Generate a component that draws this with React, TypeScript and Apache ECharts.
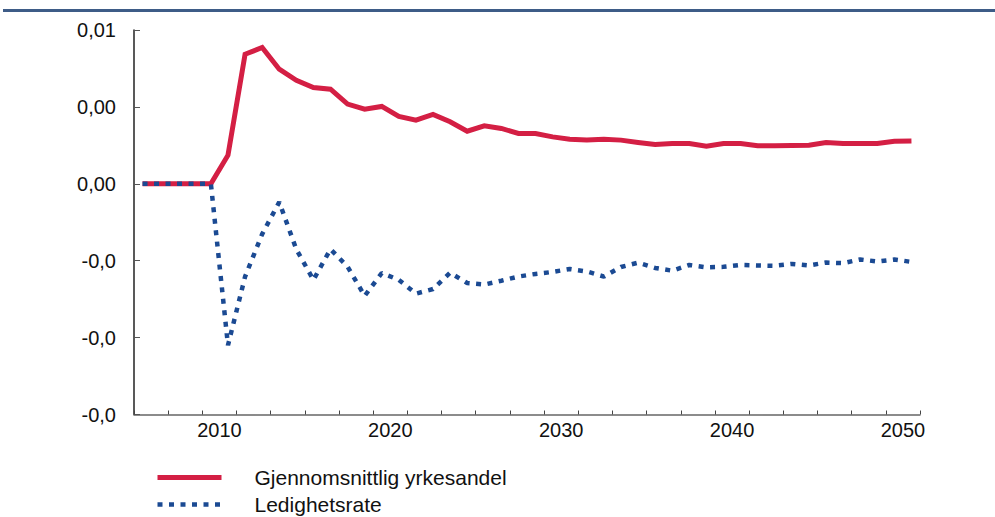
import React, { useEffect, useRef } from "react";
import * as echarts from "echarts";

const years = [
  2005, 2006, 2007, 2008, 2009, 2010, 2011, 2012, 2013, 2014,
  2015, 2016, 2017, 2018, 2019, 2020, 2021, 2022, 2023, 2024,
  2025, 2026, 2027, 2028, 2029, 2030, 2031, 2032, 2033, 2034,
  2035, 2036, 2037, 2038, 2039, 2040, 2041, 2042, 2043, 2044,
  2045, 2046, 2047, 2048, 2049, 2050,
];

const yrkesandel = [
  0, 0, 0, 0, 0, 0.00186, 0.00842, 0.00886, 0.00745, 0.00673,
  0.00626, 0.00615, 0.00518, 0.00485, 0.00503, 0.00438, 0.00414, 0.00451, 0.00403, 0.00342,
  0.00377, 0.0036, 0.00327, 0.00327, 0.00305, 0.0029, 0.00284, 0.0029, 0.00284, 0.00269,
  0.00256, 0.00262, 0.00262, 0.00245, 0.00262, 0.00262, 0.00247, 0.00247, 0.00249, 0.00251,
  0.00269, 0.00262, 0.00262, 0.00262, 0.00277, 0.00279,
];

const ledighetsrate = [
  0, 0, 0, 0, 0, -0.0105, -0.00604, -0.00327, -0.00119, -0.00426,
  -0.00625, -0.00425, -0.00539, -0.00729, -0.0058, -0.00625, -0.00714, -0.00684, -0.00578, -0.00645,
  -0.00655, -0.0063, -0.00603, -0.00586, -0.00573, -0.00554, -0.0057, -0.00603, -0.00541, -0.00513,
  -0.00547, -0.00565, -0.00528, -0.00543, -0.0054, -0.00528, -0.00531, -0.00533, -0.00521, -0.00531,
  -0.00512, -0.00516, -0.00492, -0.00505, -0.00492, -0.00508,
];

const seriesNames = ["Gjennomsnittlig yrkesandel", "Ledighetsrate"];
const yTickLabels = ["-0,0", "-0,0", "-0,0", "0,00", "0,00", "0,01"];
const xLabelYears = [2010, 2020, 2030, 2040, 2050];

const Y_MIN = -0.015;
const Y_MAX = 0.01;
const Y_STEP = 0.005;
const FONT = "'Liberation Sans', Arial, sans-serif";
const RED = "#D41F44";
const BLUE = "#1B4A93";
const DOTS = [5, 6.5];

export default function App() {
  const ref = useRef<HTMLDivElement>(null);

  useEffect(() => {
    document.body.style.margin = "0";
    if (!ref.current) return;
    const chart = echarts.init(ref.current, null, { renderer: "svg" });
    const firstYear = years[0];
    const pos = (y: number) => y - firstYear + 0.5;
    const tickValues: number[] = [];
    for (let b = 0; b <= years.length; b += 2) tickValues.push(b);

    chart.setOption({
      animation: false,
      backgroundColor: "#ffffff",
      textStyle: { fontFamily: FONT },
      graphic: [
        {
          type: "rect",
          shape: { x: 3, y: 9, width: 992, height: 3 },
          style: { fill: "#3E5C87" },
          silent: true,
        },
      ],
      grid: { left: 134, right: 75, top: 30, bottom: 102.5, containLabel: false },
      legend: {
        orient: "vertical",
        left: 155,
        top: 467,
        height: 80,
        padding: 0,
        itemWidth: 64,
        itemHeight: 20,
        itemGap: 6,
        itemStyle: { opacity: 0 },
        textStyle: {
          fontFamily: FONT,
          fontSize: 21,
          lineHeight: 20,
          color: "#111",
          padding: [0, 0, 0, 28],
        },
        data: [
          { name: seriesNames[0], lineStyle: { width: 5, color: RED } },
          { name: seriesNames[1], lineStyle: { width: 4.5, color: BLUE, type: DOTS } },
        ],
      },
      xAxis: {
        type: "value",
        min: 0,
        max: years.length,
        splitLine: { show: false },
        axisLine: { show: true, onZero: false, lineStyle: { color: "#666", width: 1.5 } },
        axisTick: {
          show: true,
          inside: true,
          length: 4,
          customValues: tickValues,
          lineStyle: { color: "#444", width: 1 },
        },
        axisLabel: {
          customValues: xLabelYears.map((y) => y - firstYear),
          formatter: (v: number) => String(Math.round(v) + firstYear),
          fontFamily: FONT,
          fontSize: 20,
          color: "#111",
          margin: 5,
        },
      },
      yAxis: {
        type: "value",
        min: Y_MIN,
        max: Y_MAX,
        interval: Y_STEP,
        splitLine: { show: false },
        axisLine: { show: true, lineStyle: { color: "#222", width: 1.5 } },
        axisTick: { show: true, inside: true, length: 6, lineStyle: { color: "#555", width: 1 } },
        axisLabel: {
          formatter: (v: number) => {
            const i = Math.round((v - Y_MIN) / Y_STEP);
            return yTickLabels[i] ?? "";
          },
          fontFamily: FONT,
          fontSize: 20,
          color: "#111",
          margin: 18,
        },
      },
      series: [
        {
          name: seriesNames[0],
          type: "line",
          symbol: "none",
          data: years.map((y, i) => [pos(y), yrkesandel[i]]),
          lineStyle: { color: RED, width: 5, cap: "butt", join: "miter" },
          itemStyle: { color: RED },
          z: 2,
        },
        {
          name: seriesNames[1],
          type: "line",
          symbol: "none",
          data: years.map((y, i) => [pos(y), ledighetsrate[i]]),
          lineStyle: { color: BLUE, width: 4.5, type: DOTS, cap: "butt" },
          itemStyle: { color: BLUE },
          z: 3,
        },
      ],
    });
    return () => chart.dispose();
  }, []);

  return <div ref={ref} style={{ width: 995, height: 517 }} />;
}
